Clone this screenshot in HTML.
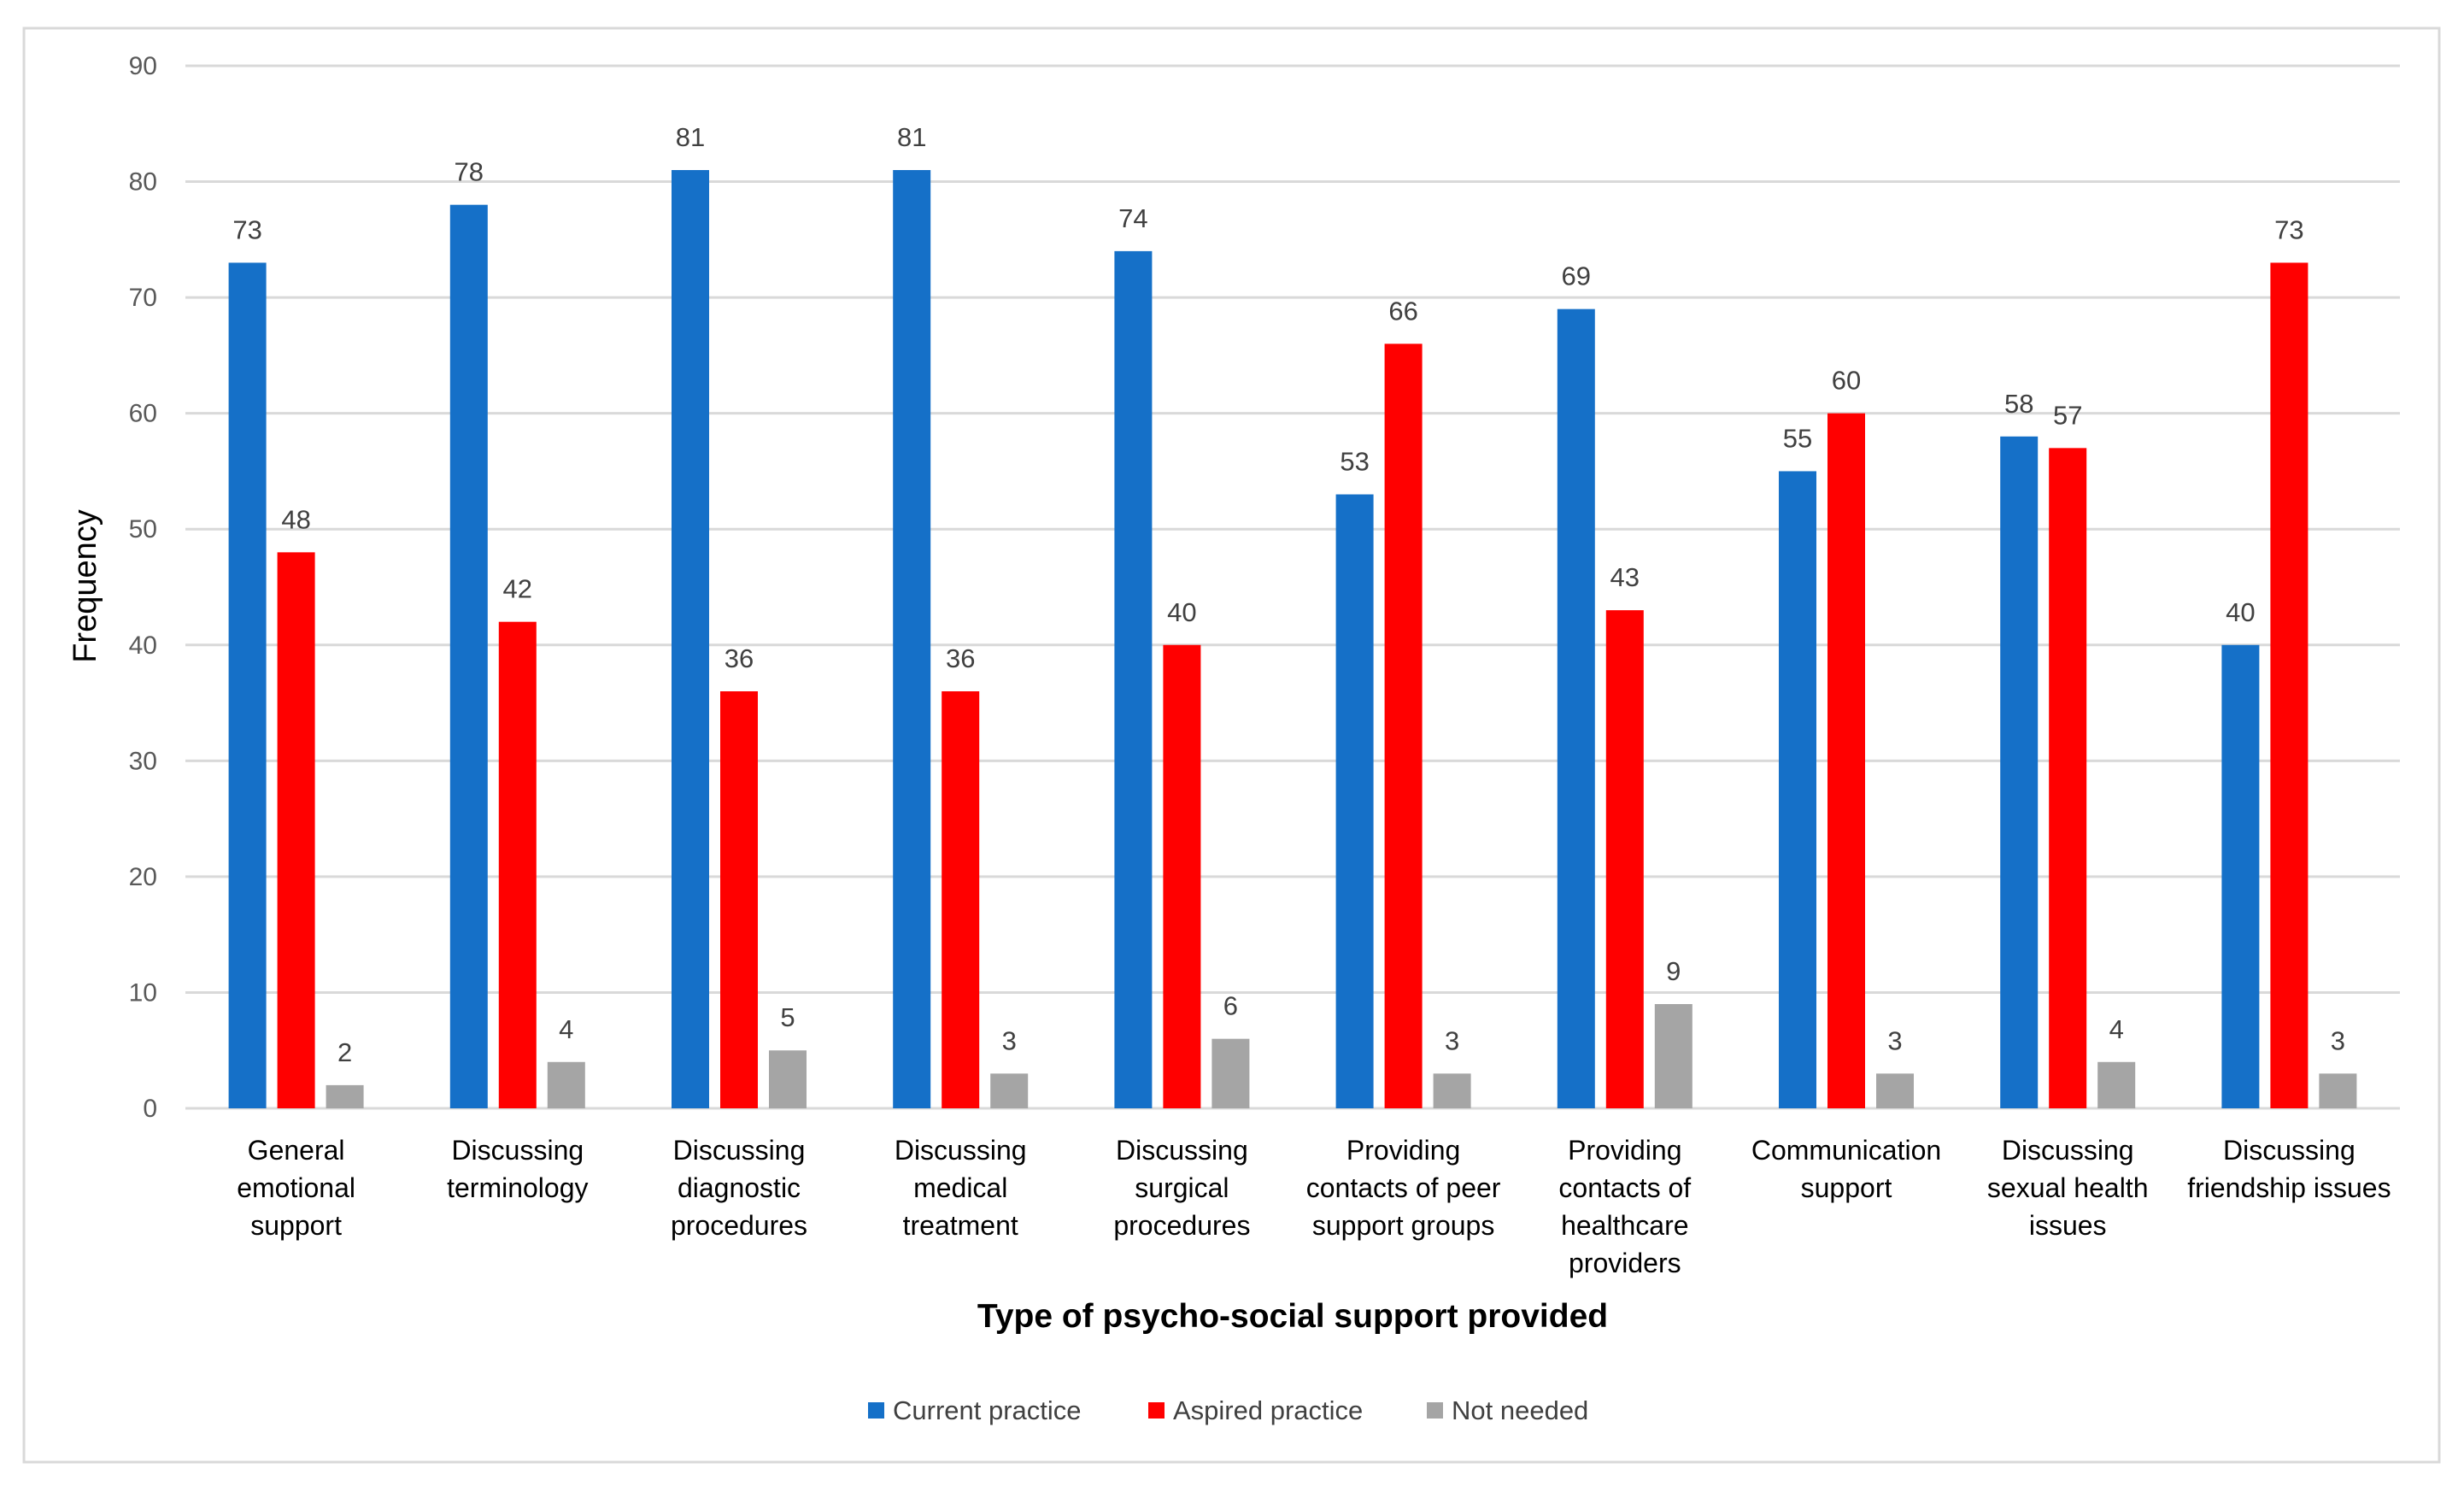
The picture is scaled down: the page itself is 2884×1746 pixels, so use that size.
<!DOCTYPE html>
<html><head><meta charset="utf-8"><style>
html,body{margin:0;padding:0;background:#fff;}
svg{display:block;font-family:"Liberation Sans",Arial,sans-serif;}
</style></head><body>
<svg id="chart" width="2884" height="1746" viewBox="0 0 2884 1746">
<rect x="28" y="33" width="2827" height="1678" fill="#fff" stroke="#d9d9d9" stroke-width="3"/>
<g id="grid"></g><g id="bars"></g><g id="labels"></g><g id="xlabels"></g>
<text x="112" y="686" transform="rotate(-90 112 686)" text-anchor="middle" font-size="38" fill="#000">Frequency</text>
<text x="1513" y="1553" text-anchor="middle" font-size="39" font-weight="bold" fill="#000">Type of psycho-social support provided</text>
<g>
<g><rect x="1016" y="1641" width="19" height="19" fill="#1570c8"/><text x="1045" y="1661" font-size="31" fill="#404040">Current practice</text></g>
<g><rect x="1344" y="1641" width="19" height="19" fill="#ff0000"/><text x="1373" y="1661" font-size="31" fill="#404040">Aspired practice</text></g>
<g><rect x="1670" y="1641" width="19" height="19" fill="#a5a5a5"/><text x="1699" y="1661" font-size="31" fill="#404040">Not needed</text></g>
</g>
</svg>
<script>
const categories=[["General","emotional","support"],["Discussing","terminology"],["Discussing","diagnostic","procedures"],["Discussing","medical","treatment"],["Discussing","surgical","procedures"],["Providing","contacts of peer","support groups"],["Providing","contacts of","healthcare","providers"],["Communication","support"],["Discussing","sexual health","issues"],["Discussing","friendship issues"]];
const currentPractice=[73,78,81,81,74,53,69,55,58,40];
const aspiredPractice=[48,42,36,36,40,66,43,60,57,73];
const notNeeded=[2,4,5,3,6,3,9,3,4,3];
const yTicks=[0,10,20,30,40,50,60,70,80,90];
const NS="http://www.w3.org/2000/svg";
const L=217,R=2809,T=77,B=1297,YMAX=90;
const y=v=>B-(v/YMAX)*(B-T);
const band=(R-L)/categories.length;
const xc=i=>L+band*(i+0.5);
function mk(tag,attrs,parent){const e=document.createElementNS(NS,tag);for(const k in attrs)e.setAttribute(k,attrs[k]);parent.appendChild(e);return e;}
const grid=document.getElementById('grid'),bars=document.getElementById('bars'),labels=document.getElementById('labels'),xl=document.getElementById('xlabels');
yTicks.forEach(t=>{
 const ln=mk('line',{x1:L,x2:R,y1:y(t),y2:y(t),stroke:'#d9d9d9','stroke-width':3},grid);
 
 
 const tx=mk('text',{x:184,y:y(t)+10,'text-anchor':'end','font-size':30,fill:'#595959'},grid);
 tx.textContent=t;
 
 
});
const series=[{vals:currentPractice,color:'#1570c8',off:-57,name:'current'},{vals:aspiredPractice,color:'#ff0000',off:0,name:'aspired'},{vals:notNeeded,color:'#a5a5a5',off:57,name:'not-needed'}];
const BW=44;
series.forEach(s=>{
 s.vals.forEach((v,i)=>{
  const cx=xc(i)+s.off;
  const r=mk('rect',{x:cx-BW/2,y:y(v),width:BW,height:B-y(v),fill:s.color},bars);
  
  
  const t=mk('text',{x:cx,y:y(v)-28,'text-anchor':'middle','font-size':31,fill:'#404040'},labels);
  t.textContent=v;
  
  
 });
});
categories.forEach((lines,i)=>{
 const t=mk('text',{x:xc(i),y:1357,'text-anchor':'middle','font-size':32,fill:'#000'},xl);
 
 
 lines.forEach((ln,j)=>{const sp=mk('tspan',{x:xc(i),y:1357+j*44},t);sp.textContent=ln;});
});
</script>
</body></html>
